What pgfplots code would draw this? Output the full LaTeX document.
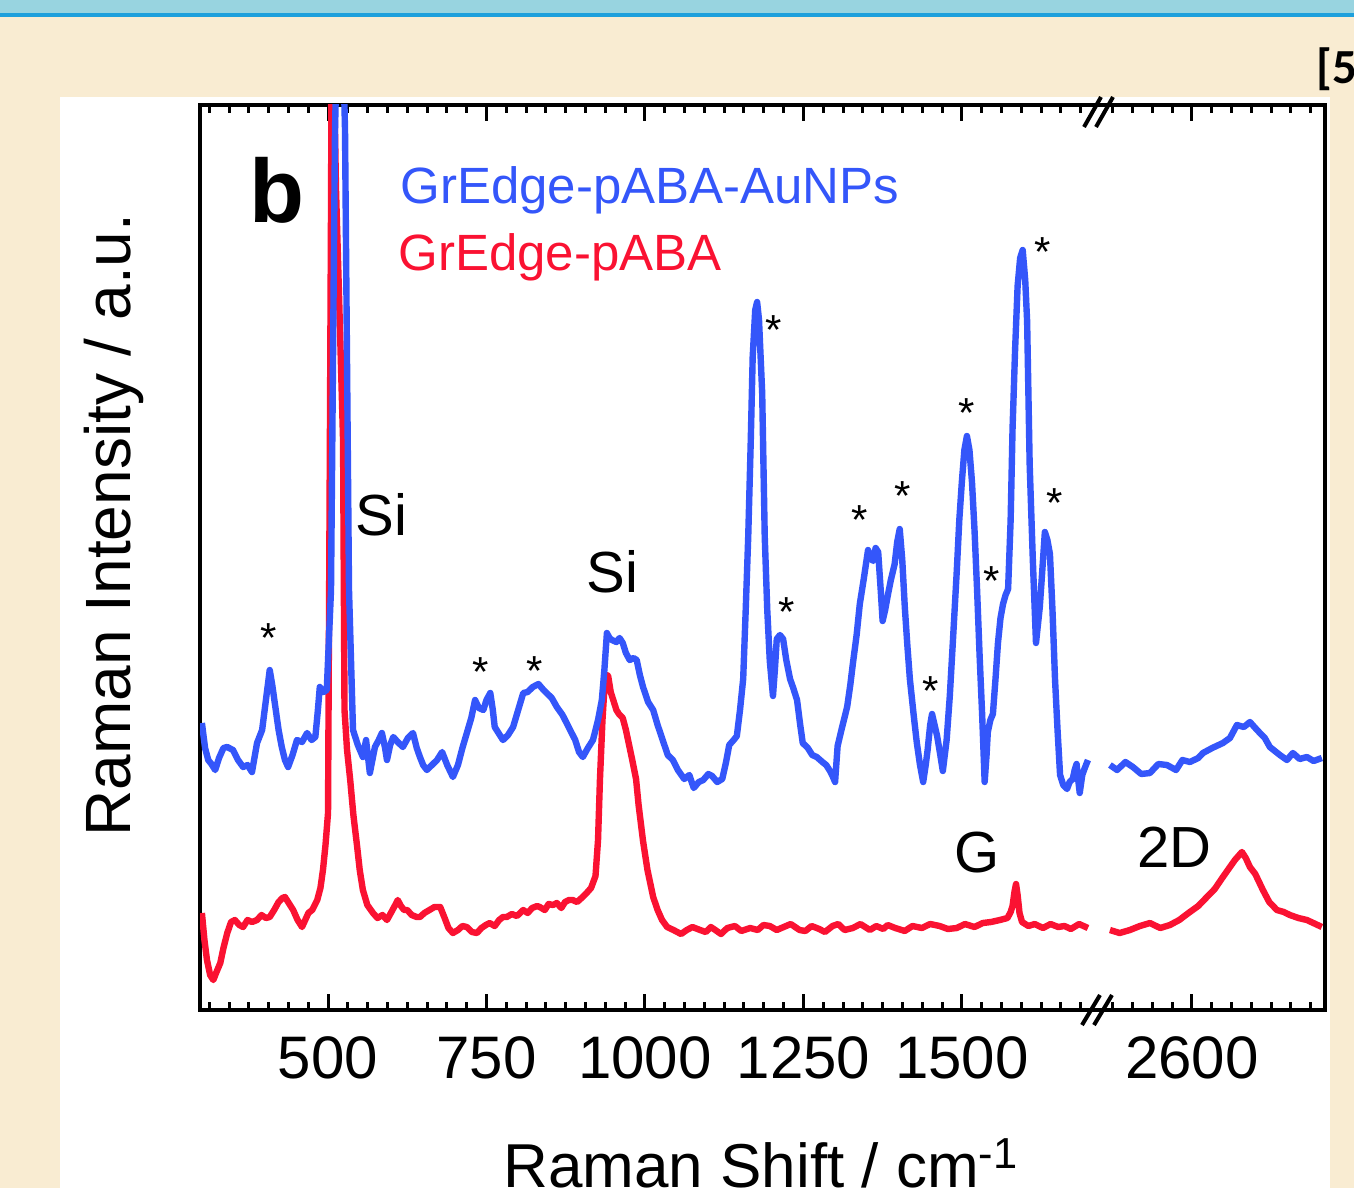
\documentclass[border=0pt]{standalone}
\usepackage{pgfplots}
\usepackage{pgfplotstable}
\pgfplotsset{compat=1.18}
\usepackage{fontspec}
\setmainfont{Liberation Sans}
\newfontfamily\carlito{Carlito}
\definecolor{bg}{RGB}{249,236,210}
\definecolor{barc}{RGB}{152,212,224}
\definecolor{barl}{RGB}{30,160,220}
\definecolor{bl}{RGB}{52,86,250}
\definecolor{rd}{RGB}{250,18,50}
\pgfplotstableread{
x y
301 287
306 262
311 250
316 246
322 240
328 252
335 262
341 263
350 260
358 250
366 243
373 245
380 238
388 267
396 280
400 300
404 320
408 340
412 325
416 307
422 280
427 263
432 250
437 243
444 255
451 270
459 268
467 277
474 270
480 273
484 300
487 323
493 318
498 320
504.7 420
511 880
518.9 1100
526.8 880
533.1 420
539.4 280
547 265
555 253
560 270
566 237
570 250
574 263
580 270
585 277
590 262
593 250
598 265
603 273
610 268
618 263
626 272
634 277
640 262
645 253
650 245
656 240
664 245
672 250
680 258
688 245
697 233
705 245
712 262
719 277
726 292
732 310
738 302
745 300
750 310
756 317
760 300
763 283
770 276
776 270
784 275
792 283
800 300
808 317
815 318
823 323
832 326
840 320
845 317
853 312
861 303
870 295
882 280
890 270
896 258
902 253
910 262
918 270
926 290
932 310
936 340
940 377
944 372
948 370
955 368
960 372
965 367
970 357
976 350
982 352
987 350
992 335
997 323
1005 308
1013 300
1020 285
1028 270
1036 255
1044 250
1052 240
1062 231
1070 235
1077 222
1085 228
1092 230
1100 236
1106 234
1114 228
1122 231
1128 248
1133 265
1140 270
1145 274
1150 300
1155 331
1159 400
1163 474
1167 570
1170 653
1174 700
1177 708
1180 690
1185 617
1189 474
1193 400
1197 349
1202 314
1205 340
1208 371
1213 375
1218 371
1223 350
1229 331
1234 322
1240 310
1245 285
1249 267
1257 262
1264 255
1271 253
1280 248
1286 245
1292 239
1296 234
1300 228
1304 264
1310 280
1319 303
1324 325
1328 346
1334 375
1339 406
1345 430
1352 460
1356 452
1360 449
1364 462
1368 458
1372 420
1375 389
1379 400
1383 414
1388 430
1394 446
1398 468
1402 481
1406 450
1410 403
1414 365
1418 331
1424 295
1429 267
1434 245
1439 228
1443 245
1446 260
1450 285
1453 296
1457 285
1461 274
1466 255
1470 239
1476 270
1481 314
1486 370
1492 439
1496 490
1500 528
1504 560
1508 574
1512 560
1516 528
1520 480
1524 421
1528 355
1532 296
1536 228
1539 255
1541 278
1545 290
1549 296
1553 330
1557 367
1561 392
1565 406
1569 415
1573 421
1577 490
1580 581
1584 660
1588 724
1592 752
1596 760
1600 730
1603 689
1607 546
1612 450
1617 367
1620 385
1623 403
1627 440
1631 478
1635 470
1639 456
1643 400
1647 331
1651 280
1655 235
1660 225
1666 221
1670 228
1675 231
1678 240
1681 246
1684 228
1686 217
1690 235
1694 242
1699 250
}\bluea
\pgfplotstableread{
x y
2470.7 245
2482 240
2495 248
2506.9 243
2520 236
2533.8 237
2547 246
2560.6 245
2575 240
2585 250
2596.8 248
2610 252
2617.4 257
2632 262
2648.9 267
2660 272
2671 285
2682 283
2691.5 288
2700 282
2707.3 277
2715 272
2723 263
2738.8 255
2750 250
2759.3 257
2770 251
2781.4 253
2792 249
2805 252
}\blueb
\pgfplotstableread{
x y
301 97
305 70
309 50
314 35
319 30
324 38
330 47
335 62
341 77
347 88
353 90
360 85
366 83
373 90
380 88
388 90
395 95
402 92
408 93
415 100
422 108
428 112
432 113
438 107
445 100
452 90
459 83
464 90
469 97
475 100
483 110
488 122
492 140
496 165
500 197
502.4 500
504.7 800
506.3 1050
512.6 820
518 700
523.7 570
526 300
530 260
535 230
540 195
546 163
550 140
555 120
562 105
571 97
578 92
586 95
593 90
600 98
606 105
610 110
615 104
620 100
625 100
632 95
640 93
645 93
652 97
660 100
668 103
677 103
684 92
690 82
697 77
705 80
712 84
719 83
727 78
735 77
742 82
749 85
755 87
763 84
770 90
776 93
782 93
790 96
798 94
808 100
815 97
822 102
830 104
834 103
842 100
848 106
855 105
861 107
868 102
874 108
880 110
886 110
893 108
900 112
908 117
915 122
922 134
926 170
929 230
933 290
937 331
940 335
942 334
946 318
950 310
955 300
959 296
965 292
970 280
975 265
980 250
986 231
990 205
997 169
1004 140
1013 113
1020 100
1027 90
1035 83
1045 80
1057 76
1066 80
1075 83
1087 80
1096 78
1104 83
1111 80
1120 76
1130 82
1142 84
1152 79
1166 82
1178 80
1187 85
1197 84
1208 80
1219 83
1230 86
1244 80
1253 79
1263 84
1275 81
1284 78
1296 84
1305 86
1315 80
1328 82
1340 86
1355 80
1365 84
1376 81
1383 85
1395 82
1410 79
1422 84
1437 82
1450 86
1465 84
1478 81
1492 82
1505 86
1520 83
1533 87
1546 88
1560 90
1572 92
1577 98
1580 104
1583 118
1585.5 126
1588 115
1591 97
1595 88
1605 84
1615 86
1628 82
1640 86
1652 83
1662 84
1672 81
1685 86
1699 82
}\reda
\pgfplotstableread{
x y
2470.7 80
2486 77
2502.2 80
2518 84
2533.8 87
2550 82
2565.3 85
2580 90
2596.8 98
2610 104
2623.7 113
2636 121
2648.9 133
2660 143
2667.8 150
2678.9 158
2685 152
2691.5 143
2700 136
2712 120
2722 108
2734.1 100
2745 98
2754.6 95
2768 92
2781.4 90
2795 86
2805 83
}\redb
\begin{document}
\begin{tikzpicture}
\path[use as bounding box] (0,0) rectangle (677pt,-594pt);
\clip (0,0) rectangle (677pt,-594pt);
\begin{scope}[x=0.5pt,y=-0.5pt]
\fill[bg] (0,0) rectangle (1354,1188);
\fill[barc] (0,0) rectangle (1354,14);
\fill[barl] (0,13) rectangle (1354,17);
\fill[white] (60,97) rectangle (1330,1188);
\node[anchor=base west,inner sep=0,font=\carlito\bfseries\fontsize{24.5}{28}\selectfont] at (1316,84) {[5};
\end{scope}
\begin{axis}[
  at={(100pt,-505pt)}, anchor=south west,
  scale only axis, width=562.5pt, height=452.5pt,
  xmin=298, xmax=2073, ymin=0, ymax=905,
  axis line style={line width=2.2pt},
  ytick=\empty,
  xtick={500,750,1000,1250,1500,1863},
  xticklabels={500,750,1000,1250,1500,2600},
  minor xtick={312.5,343.75,375,406.25,437.5,468.75,531.25,562.5,593.75,625,656.25,687.5,718.75,781.25,812.5,843.75,875,906.25,937.5,968.75,1031.25,1062.5,1093.75,1125,1156.25,1187.5,1218.75,1281.25,1312.5,1343.75,1375,1406.25,1437.5,1468.75,1531.25,1562.5,1593.75,1625,1656.25,1687.5,1738,1769.25,1800.5,1831.75,1894.25,1925.5,1956.75,1988,2019.25,2050.5},
  tick align=inside,
  major tick length=8pt, minor tick length=4pt,
  every tick/.style={black, line width=1.5pt},
  xticklabel style={font=\fontsize{30}{36}\selectfont, yshift=-10pt},
  clip=true,
]
\addplot[rd, line width=3.2pt, line join=round] table[x=x,y=y] {\reda};
\addplot[rd, line width=3.2pt, line join=round] table[x expr=\thisrow{x}-737,y=y] {\redb};
\addplot[bl, line width=3.2pt, line join=round] table[x=x,y=y] {\bluea};
\addplot[bl, line width=3.2pt, line join=round] table[x expr=\thisrow{x}-737,y=y] {\blueb};
\end{axis}
\begin{scope}[x=0.5pt,y=-0.5pt]
\node[anchor=base west,inner sep=0,font=\bfseries\fontsize{45}{50}\selectfont] at (249,222) {b};
\node[anchor=base west,inner sep=0,text=bl,font=\fontsize{25.5}{30}\selectfont] at (400,203) {GrEdge-pABA-AuNPs};
\node[anchor=base west,inner sep=0,text=rd,font=\fontsize{25.5}{30}\selectfont] at (398,270) {GrEdge-pABA};
\node[anchor=base west,inner sep=0,font=\fontsize{29}{34}\selectfont] at (355,535) {Si};
\node[anchor=base west,inner sep=0,font=\fontsize{29}{34}\selectfont] at (586,592) {Si};
\node[anchor=base west,inner sep=0,font=\fontsize{29}{34}\selectfont] at (954,872) {G};
\node[anchor=base west,inner sep=0,font=\fontsize{29}{34}\selectfont] at (1137,867) {2D};
\foreach \sx/\sy in {269/630,481/664,535/663,774/322,787/604,860/512,903/488,931/683,967/405,992/573,1043/244,1055/495}
  \node[anchor=base,inner sep=0,font=\fontsize{21}{24}\selectfont] at (\sx,\sy+22) {*};
\draw[line width=2pt] (1082,1025) -- (1100,995);
\draw[line width=2pt] (1094,1025) -- (1112,995);
\draw[line width=2pt] (1084,127) -- (1101,97);
\draw[line width=2pt] (1096,127) -- (1113,97);
\node[anchor=base,inner sep=0,font=\fontsize{31}{36}\selectfont] at (761,1187) {Raman Shift / cm\textsuperscript{-1}};
\node[rotate=90,anchor=base,inner sep=0,font=\fontsize{32}{38}\selectfont] at (130,525) {Raman Intensity / a.u.};
\end{scope}
\end{tikzpicture}
\end{document}
